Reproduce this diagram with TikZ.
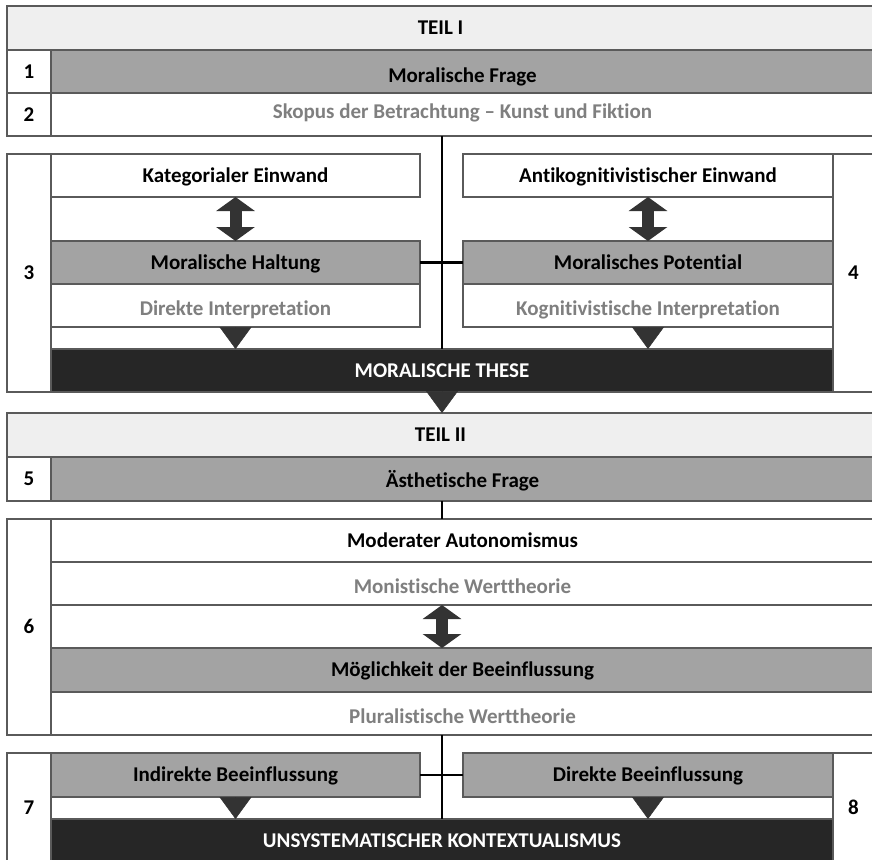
\documentclass[tikz,border=0pt]{standalone}
\usepackage{fontspec}
\setmainfont{Carlito}[Ligatures=NoCommon]
\usepackage{tikz}
\usetikzlibrary{arrows.meta, positioning, calc}

\definecolor{framegrey}{HTML}{5A5A5A}
\definecolor{bargrey}{HTML}{A3A3A3}
\definecolor{headgrey}{HTML}{EFEFEF}
\definecolor{textgrey}{HTML}{7F7F7F}
\definecolor{darkbar}{HTML}{262626}
\definecolor{arrowgrey}{HTML}{333333}

\begin{document}
\begin{tikzpicture}[
  x=1pt, y=-1pt,
  cell/.style={rectangle, draw=framegrey, line width=1.2pt, anchor=north west, inner sep=0pt, outer sep=0pt,
    align=center, text height=13.5pt, text depth=0pt, font=\fontsize{21}{24}\selectfont\bfseries},
  head/.style={cell, fill=headgrey},
  num/.style={cell, fill=white, minimum width=44pt},
  plain/.style={cell, fill=white},
  soft/.style={cell, fill=white, text=textgrey},
  shaded/.style={cell, fill=bargrey},
  result/.style={cell, fill=darkbar, text=white},
  lower/.style={text height=#1},
  upper/.style={text depth=#1},
  link/.style={line width=2.8pt, black},
  tri/.style={draw=arrowgrey, line width=0.5pt, -{Triangle[length=22pt,width=32pt]}},
  dbl/.style={draw=arrowgrey, line width=12pt, {Triangle[length=14pt,width=38pt]}-{Triangle[length=14pt,width=38pt]}}
]
  \useasboundingbox (0,0) rectangle (872,859);

  % Teil I
  \node[head, minimum width=867pt, minimum height=44pt] (teil1) at (7,6) {TEIL I};
  \node[num, minimum height=43pt] (n1) at (7,50) {1};
  \node[shaded, lower=21.5pt, minimum width=823pt, minimum height=43pt] (frage) at (51,50) {Moralische Frage};
  \node[num, minimum height=43pt] (n2) at (7,93) {2};
  \node[soft, upper=6pt, minimum width=823pt, minimum height=43pt] (skopus) at (51,93) {Skopus der Betrachtung – Kunst und Fiktion};

  \node[num, minimum height=238pt] (n3) at (7,154) {3};
  \node[plain, minimum width=369pt, minimum height=43pt] (kat) at (51,154) {Kategorialer Einwand};
  \node[shaded, minimum width=369pt, minimum height=43pt] (haltung) at (51,241) {Moralische Haltung};
  \node[soft, lower=20.5pt, minimum width=369pt, minimum height=43pt] (direkt) at (51,284) {Direkte Interpretation};

  \node[num, minimum width=41pt, minimum height=238pt] (n4) at (833,154) {4};
  \node[plain, minimum width=370pt, minimum height=43pt] (anti) at (463,154) {Antikognitivistischer Einwand};
  \node[shaded, minimum width=370pt, minimum height=43pt] (potential) at (463,241) {Moralisches Potential};
  \node[soft, lower=20.5pt, minimum width=370pt, minimum height=43pt] (kognitiv) at (463,284) {Kognitivistische Interpretation};

  \node[result, minimum width=782pt, minimum height=43pt] (these) at (51,349) {MORALISCHE THESE};

  % Teil II
  \node[head, minimum width=867pt, minimum height=44pt] (teil2) at (7,413) {TEIL II};
  \node[num, minimum height=44pt] (n5) at (7,457) {5};
  \node[shaded, lower=17.5pt, minimum width=823pt, minimum height=44pt] (aesth) at (51,457) {Ästhetische Frage};

  \node[num, minimum height=216pt] (n6) at (7,519) {6};
  \node[plain, minimum width=823pt, minimum height=43pt] (moderat) at (51,519) {Moderater Autonomismus};
  \node[soft, lower=19.5pt, minimum width=823pt, minimum height=43pt] (monist) at (51,562) {Monistische Werttheorie};
  \node[shaded, minimum width=823pt, minimum height=44pt] (moeglich) at (51,648) {Möglichkeit der Beeinflussung};
  \node[soft, lower=19.5pt, minimum width=823pt, minimum height=43pt] (plural) at (51,692) {Pluralistische Werttheorie};

  \node[num, minimum height=110pt] (n7) at (7,753) {7};
  \node[shaded, minimum width=369pt, minimum height=44pt] (indirekt) at (51,753) {Indirekte Beeinflussung};
  \node[shaded, minimum width=370pt, minimum height=44pt] (direktb) at (463,753) {Direkte Beeinflussung};
  \node[num, minimum width=41pt, minimum height=110pt] (n8) at (833,753) {8};
  \node[result, minimum width=782pt, minimum height=43pt] (kontext) at (51,819) {UNSYSTEMATISCHER KONTEXTUALISMUS};

  % connectors
  \draw[link] (these.north |- skopus.south) -- (these.north);
  \draw[link] (haltung.east) -- (potential.west);
  \draw[tri] (direkt.south) -- (these.north -| direkt.south);
  \draw[tri] (kognitiv.south) -- (these.north -| kognitiv.south);
  \draw[dbl] (kat.south) -- (haltung.north -| kat.south);
  \draw[dbl] (anti.south) -- (potential.north -| anti.south);
  \draw[tri] (these.south) -- (these.south |- teil2.north);

  \draw[link] (kontext.north |- aesth.south) -- (kontext.north |- moderat.north);
  \draw[dbl] (kontext.north |- monist.south) -- (kontext.north |- moeglich.north);
  \draw[link] (kontext.north |- plural.south) -- (kontext.north);
  \draw[link] (indirekt.east) -- (direktb.west);
  \draw[tri] (indirekt.south) -- (kontext.north -| indirekt.south);
  \draw[tri] (direktb.south) -- (kontext.north -| direktb.south);
\end{tikzpicture}
\end{document}
